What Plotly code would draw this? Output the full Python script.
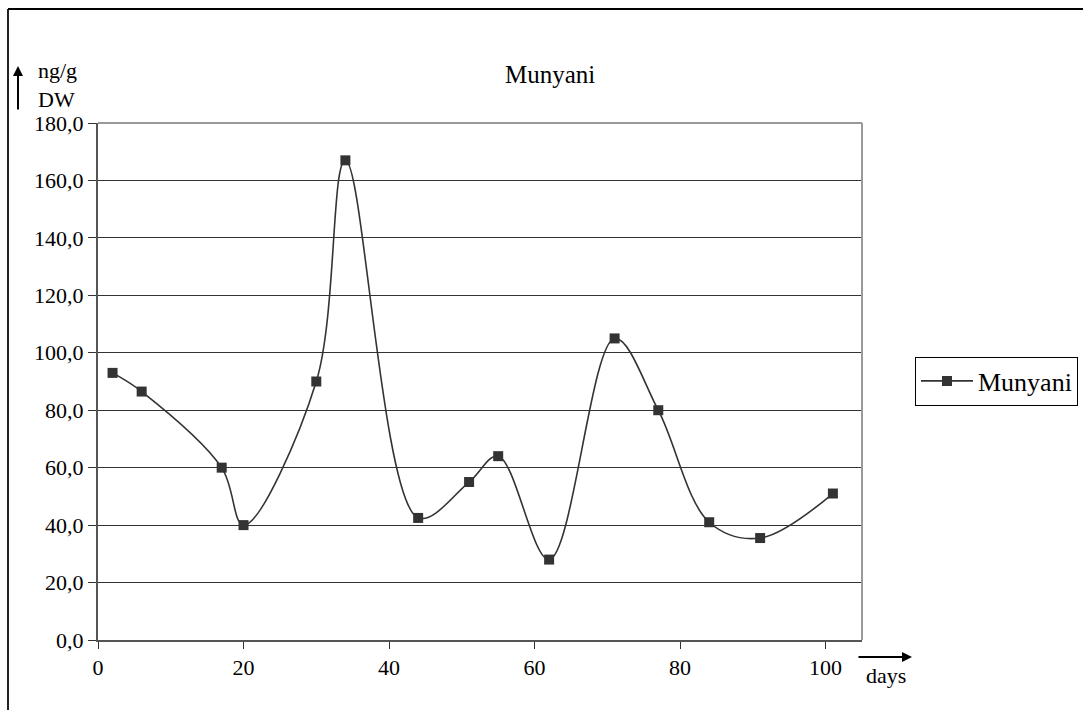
import plotly.graph_objects as go

# Sampling days and measured concentrations (ng/g DW)
days = [2, 6, 17, 20, 30, 34, 44, 51, 55, 62, 71, 77, 84, 91, 101]
conc = [93.0, 86.5, 60.0, 40.0, 90.0, 167.0, 42.5, 55.0, 64.0, 28.0, 105.0, 80.0, 41.0, 35.5, 51.0]
series_name = "Munyani"
y_ticks = [0, 20, 40, 60, 80, 100, 120, 140, 160, 180]
x_ticks = [0, 20, 40, 60, 80, 100]

W, H = 1083, 710
L, R, T, B = 98, 862, 123, 640  # plot area in pixels


def px(xp):
    return (xp - L) / (R - L)


def py(yp):
    return (B - yp) / (B - T)


FONT = "Liberation Serif"
DARK = "#333333"

fig = go.Figure()
fig.add_trace(go.Scatter(
    x=days, y=conc, name=series_name,
    mode="lines+markers",
    line=dict(color=DARK, width=1.6, shape="spline", smoothing=1.0),
    marker=dict(symbol="square", size=10, color=DARK),
))

fig.update_layout(
    width=W, height=H,
    margin=dict(l=L, r=W - R, t=T, b=H - B, pad=0, autoexpand=False),
    paper_bgcolor="white", plot_bgcolor="white",
    separators=", ",
    font=dict(family=FONT, size=22, color="black"),
    showlegend=True,
    legend=dict(
        x=px(915), xanchor="left", y=py(381), yanchor="middle",
        bordercolor="black", borderwidth=1, bgcolor="white",
        font=dict(family=FONT, size=26, color="black"),
        itemwidth=52,
    ),
    xaxis=dict(
        range=[0, 105], tickvals=x_ticks, ticktext=[str(v) for v in x_ticks],
        showgrid=False, zeroline=False,
        showline=True, linecolor="#555555", linewidth=2,
        ticks="outside", ticklen=7, tickcolor=DARK, tickwidth=1,
        tickfont=dict(family=FONT, size=22, color="black"),
    ),
    yaxis=dict(
        range=[0, 180], tickvals=y_ticks, tickformat=".1f",
        showgrid=True, gridcolor=DARK, gridwidth=1, zeroline=False,
        showline=True, linecolor="#555555", linewidth=2,
        ticks="outside", ticklen=8, tickcolor=DARK, tickwidth=1,
        tickfont=dict(family=FONT, size=22, color="black"),
    ),
)

# Plot-area border on top and right, and the outer chart frame
fig.add_shape(type="line", xref="paper", yref="paper", x0=0, x1=1, y0=1, y1=1,
              line=dict(color="#999999", width=2))
fig.add_shape(type="line", xref="paper", yref="paper", x0=1, x1=1, y0=0, y1=1,
              line=dict(color="#999999", width=2))
fig.add_shape(type="line", xref="paper", yref="paper", x0=px(8), x1=px(8), y0=py(9), y1=py(712),
              line=dict(color="#222222", width=2))
fig.add_shape(type="line", xref="paper", yref="paper", x0=px(8), x1=px(1090), y0=py(9), y1=py(9),
              line=dict(color="black", width=2))

# Chart title
fig.add_annotation(text="Munyani", xref="paper", yref="paper", x=px(550), y=py(75),
                   showarrow=False, font=dict(family=FONT, size=25, color="black"),
                   xanchor="center", yanchor="middle")

# Axis unit labels with arrows
fig.add_annotation(text="ng/g", xref="paper", yref="paper", x=px(36), y=py(70),
                   showarrow=False, xanchor="left", yanchor="middle",
                   font=dict(family=FONT, size=22, color="black"))
fig.add_annotation(text="DW", xref="paper", yref="paper", x=px(36), y=py(99),
                   showarrow=False, xanchor="left", yanchor="middle",
                   font=dict(family=FONT, size=22, color="black"))
fig.add_annotation(text="", xref="paper", yref="paper", x=px(18), y=py(66),
                   showarrow=True, ax=0, ay=45, axref="pixel", ayref="pixel",
                   arrowhead=2, arrowsize=1, arrowwidth=2, arrowcolor="black")
fig.add_annotation(text="days", xref="paper", yref="paper", x=px(886), y=py(675),
                   showarrow=False, xanchor="center", yanchor="middle",
                   font=dict(family=FONT, size=22, color="black"))
fig.add_annotation(text="", xref="paper", yref="paper", x=px(912), y=py(657),
                   showarrow=True, ax=-55, ay=0, axref="pixel", ayref="pixel",
                   arrowhead=2, arrowsize=1, arrowwidth=2, arrowcolor="black")

fig.write_html("out.html")
